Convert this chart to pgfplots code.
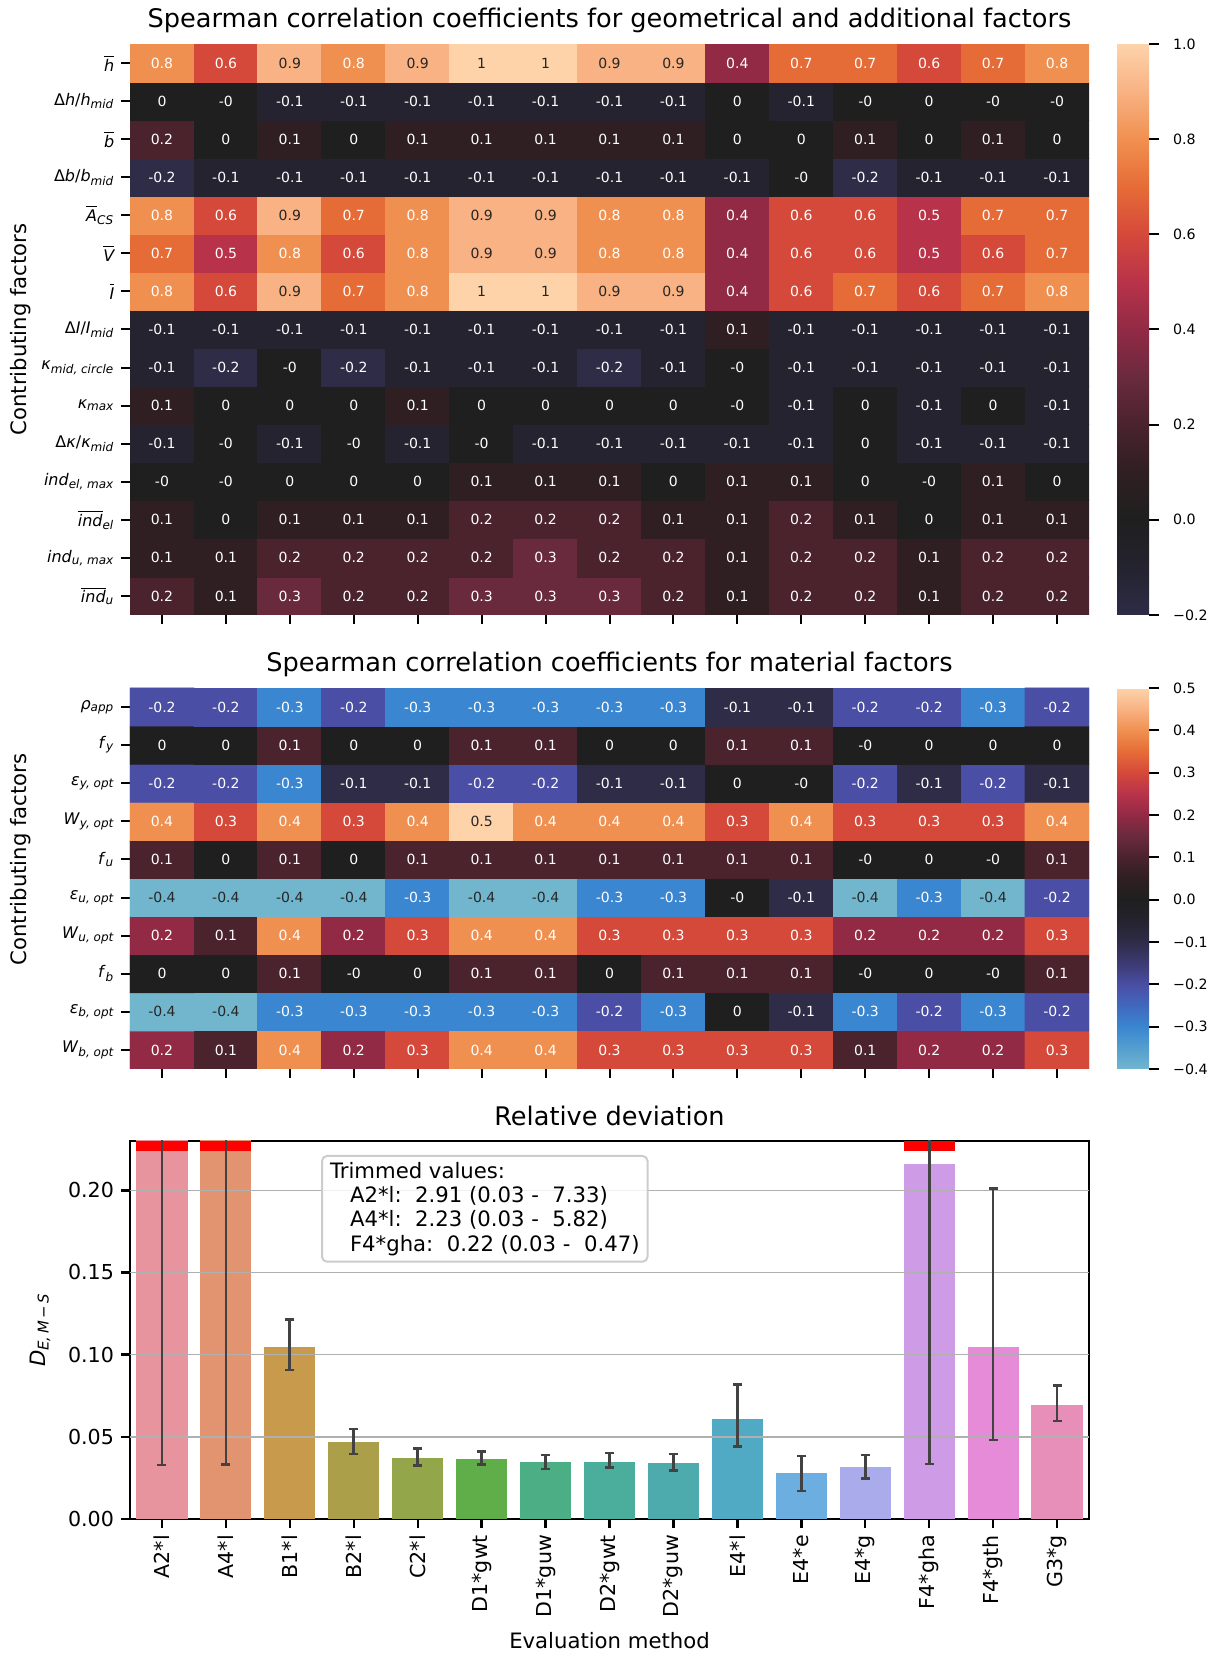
\documentclass[border=0pt]{standalone}
\usepackage{pgfplots}
\pgfplotsset{compat=1.18}
\usepackage{pgfplotstable}
\usepackage{fontspec}
\setmainfont{DejaVu Sans}

\definecolor{darktxt}{RGB}{38,38,38}
\definecolor{errgray}{RGB}{66,66,66}
\definecolor{gridgray}{RGB}{176,176,176}
\definecolor{legframe}{RGB}{204,204,204}
\definecolor{bc0}{RGB}{232,148,159}
\definecolor{bc1}{RGB}{226,148,112}
\definecolor{bc2}{RGB}{200,154,75}
\definecolor{bc3}{RGB}{171,159,74}
\definecolor{bc4}{RGB}{148,166,74}
\definecolor{bc5}{RGB}{96,174,74}
\definecolor{bc6}{RGB}{75,174,132}
\definecolor{bc7}{RGB}{75,173,156}
\definecolor{bc8}{RGB}{78,171,173}
\definecolor{bc9}{RGB}{80,170,196}
\definecolor{bc10}{RGB}{109,174,224}
\definecolor{bc11}{RGB}{170,171,234}
\definecolor{bc12}{RGB}{206,155,230}
\definecolor{bc13}{RGB}{230,139,216}
\definecolor{bc14}{RGB}{232,143,185}

\newcommand{\ov}[1]{$\overline{\mbox{\itshape #1}}$}
\newcommand{\sbi}[1]{\textsubscript{\itshape #1}}

\pgfplotsset{
 colormap={icefireA}{
  rgb255=(46,44,71) rgb255=(36,35,47) rgb255=(31,31,31) rgb255=(47,31,34)
  rgb255=(74,35,45) rgb255=(106,42,62) rgb255=(146,42,69) rgb255=(184,51,74)
  rgb255=(213,73,58) rgb255=(230,108,55) rgb255=(240,144,80) rgb255=(248,178,131)
  rgb255=(254,211,170)},
 colormap={icefireB}{
  rgb255=(114,182,206) rgb255=(84,158,208) rgb255=(58,134,208) rgb255=(64,104,190)
  rgb255=(74,78,164) rgb255=(60,58,115) rgb255=(46,44,71) rgb255=(36,35,47)
  rgb255=(31,31,31) rgb255=(47,31,34) rgb255=(74,35,45) rgb255=(106,42,62)
  rgb255=(146,42,69) rgb255=(184,51,74) rgb255=(213,73,58) rgb255=(230,108,55)
  rgb255=(240,144,80) rgb255=(248,178,131) rgb255=(254,211,170)},
 hmstyle/.style={
  scale only axis, width=479.5pt,
  xmin=-0.5, xmax=14.5,
  axis line style={draw=none},
  xtick={0,...,14}, xticklabels={},
  tick align=outside, xtick pos=left, ytick pos=left,
  major tick length=4.3pt, tick style={black, line width=1pt},
  yticklabel style={font=\fontsize{8}{9.6}\selectfont},
  every axis title/.style={at={(0.5,1)}, anchor=base, yshift=8.25pt, font=\fontsize{12.8}{15}\selectfont},
  every axis y label/.style={at={(rel axis cs:0,0.5)}, xshift=-54.5pt, rotate=90, anchor=center, font=\fontsize{10.6}{12}\selectfont},
  colorbar/width=16pt,
 },
 cbstyle/.style={
  scale only axis, width=16pt,
  axis line style={draw=none},
  tick align=outside, ytick pos=right, yticklabel pos=right,
  major tick length=5pt, tick style={black, line width=1pt},
  yticklabel style={font=\fontsize{7.1}{8}\selectfont, xshift=3.5pt},
 },
 lbl/.style={only marks, mark=none, point meta=explicit symbolic,
  visualization depends on={\thisrow{t} \as \tval},
  nodes near coords={\ifdim\tval pt>0.5pt\color{darktxt}\else\color{white}\fi\pgfplotspointmeta},
  every node near coord/.append style={anchor=center, font=\fontsize{7}{8}\selectfont}},
}

% Spearman coefficients, geometrical and additional factors
% x = evaluation method (0 = A2*l ... 14 = G3*g), y = factor (14 = top row), t = 1 for dark label text
\pgfplotstableread{
x y c t
0 0 0.2 0
1 0 0.1 0
2 0 0.3 0
3 0 0.2 0
4 0 0.2 0
5 0 0.3 0
6 0 0.3 0
7 0 0.3 0
8 0 0.2 0
9 0 0.1 0
10 0 0.2 0
11 0 0.2 0
12 0 0.1 0
13 0 0.2 0
14 0 0.2 0
0 1 0.1 0
1 1 0.1 0
2 1 0.2 0
3 1 0.2 0
4 1 0.2 0
5 1 0.2 0
6 1 0.3 0
7 1 0.2 0
8 1 0.2 0
9 1 0.1 0
10 1 0.2 0
11 1 0.2 0
12 1 0.1 0
13 1 0.2 0
14 1 0.2 0
0 2 0.1 0
1 2 0 0
2 2 0.1 0
3 2 0.1 0
4 2 0.1 0
5 2 0.2 0
6 2 0.2 0
7 2 0.2 0
8 2 0.1 0
9 2 0.1 0
10 2 0.2 0
11 2 0.1 0
12 2 0 0
13 2 0.1 0
14 2 0.1 0
0 3 -0 0
1 3 -0 0
2 3 0 0
3 3 0 0
4 3 0 0
5 3 0.1 0
6 3 0.1 0
7 3 0.1 0
8 3 0 0
9 3 0.1 0
10 3 0.1 0
11 3 0 0
12 3 -0 0
13 3 0.1 0
14 3 0 0
0 4 -0.1 0
1 4 -0 0
2 4 -0.1 0
3 4 -0 0
4 4 -0.1 0
5 4 -0 0
6 4 -0.1 0
7 4 -0.1 0
8 4 -0.1 0
9 4 -0.1 0
10 4 -0.1 0
11 4 0 0
12 4 -0.1 0
13 4 -0.1 0
14 4 -0.1 0
0 5 0.1 0
1 5 0 0
2 5 0 0
3 5 0 0
4 5 0.1 0
5 5 0 0
6 5 0 0
7 5 0 0
8 5 0 0
9 5 -0 0
10 5 -0.1 0
11 5 0 0
12 5 -0.1 0
13 5 0 0
14 5 -0.1 0
0 6 -0.1 0
1 6 -0.2 0
2 6 -0 0
3 6 -0.2 0
4 6 -0.1 0
5 6 -0.1 0
6 6 -0.1 0
7 6 -0.2 0
8 6 -0.1 0
9 6 -0 0
10 6 -0.1 0
11 6 -0.1 0
12 6 -0.1 0
13 6 -0.1 0
14 6 -0.1 0
0 7 -0.1 0
1 7 -0.1 0
2 7 -0.1 0
3 7 -0.1 0
4 7 -0.1 0
5 7 -0.1 0
6 7 -0.1 0
7 7 -0.1 0
8 7 -0.1 0
9 7 0.1 0
10 7 -0.1 0
11 7 -0.1 0
12 7 -0.1 0
13 7 -0.1 0
14 7 -0.1 0
0 8 0.8 0
1 8 0.6 0
2 8 0.9 1
3 8 0.7 0
4 8 0.8 0
5 8 1 1
6 8 1 1
7 8 0.9 1
8 8 0.9 1
9 8 0.4 0
10 8 0.6 0
11 8 0.7 0
12 8 0.6 0
13 8 0.7 0
14 8 0.8 0
0 9 0.7 0
1 9 0.5 0
2 9 0.8 0
3 9 0.6 0
4 9 0.8 0
5 9 0.9 1
6 9 0.9 1
7 9 0.8 0
8 9 0.8 0
9 9 0.4 0
10 9 0.6 0
11 9 0.6 0
12 9 0.5 0
13 9 0.6 0
14 9 0.7 0
0 10 0.8 0
1 10 0.6 0
2 10 0.9 1
3 10 0.7 0
4 10 0.8 0
5 10 0.9 1
6 10 0.9 1
7 10 0.8 0
8 10 0.8 0
9 10 0.4 0
10 10 0.6 0
11 10 0.6 0
12 10 0.5 0
13 10 0.7 0
14 10 0.7 0
0 11 -0.2 0
1 11 -0.1 0
2 11 -0.1 0
3 11 -0.1 0
4 11 -0.1 0
5 11 -0.1 0
6 11 -0.1 0
7 11 -0.1 0
8 11 -0.1 0
9 11 -0.1 0
10 11 -0 0
11 11 -0.2 0
12 11 -0.1 0
13 11 -0.1 0
14 11 -0.1 0
0 12 0.2 0
1 12 0 0
2 12 0.1 0
3 12 0 0
4 12 0.1 0
5 12 0.1 0
6 12 0.1 0
7 12 0.1 0
8 12 0.1 0
9 12 0 0
10 12 0 0
11 12 0.1 0
12 12 0 0
13 12 0.1 0
14 12 0 0
0 13 0 0
1 13 -0 0
2 13 -0.1 0
3 13 -0.1 0
4 13 -0.1 0
5 13 -0.1 0
6 13 -0.1 0
7 13 -0.1 0
8 13 -0.1 0
9 13 0 0
10 13 -0.1 0
11 13 -0 0
12 13 0 0
13 13 -0 0
14 13 -0 0
0 14 0.8 0
1 14 0.6 0
2 14 0.9 1
3 14 0.8 0
4 14 0.9 1
5 14 1 1
6 14 1 1
7 14 0.9 1
8 14 0.9 1
9 14 0.4 0
10 14 0.7 0
11 14 0.7 0
12 14 0.6 0
13 14 0.7 0
14 14 0.8 0
}\hmA

% Spearman coefficients, material factors (y = 9 top row rho_app ... 0 bottom row W_b,opt)
\pgfplotstableread{
x y c t
0 0 0.2 0
1 0 0.1 0
2 0 0.4 0
3 0 0.2 0
4 0 0.3 0
5 0 0.4 0
6 0 0.4 0
7 0 0.3 0
8 0 0.3 0
9 0 0.3 0
10 0 0.3 0
11 0 0.1 0
12 0 0.2 0
13 0 0.2 0
14 0 0.3 0
0 1 -0.4 1
1 1 -0.4 1
2 1 -0.3 0
3 1 -0.3 0
4 1 -0.3 0
5 1 -0.3 0
6 1 -0.3 0
7 1 -0.2 0
8 1 -0.3 0
9 1 0 0
10 1 -0.1 0
11 1 -0.3 0
12 1 -0.2 0
13 1 -0.3 0
14 1 -0.2 0
0 2 0 0
1 2 0 0
2 2 0.1 0
3 2 -0 0
4 2 0 0
5 2 0.1 0
6 2 0.1 0
7 2 0 0
8 2 0.1 0
9 2 0.1 0
10 2 0.1 0
11 2 -0 0
12 2 0 0
13 2 -0 0
14 2 0.1 0
0 3 0.2 0
1 3 0.1 0
2 3 0.4 0
3 3 0.2 0
4 3 0.3 0
5 3 0.4 0
6 3 0.4 0
7 3 0.3 0
8 3 0.3 0
9 3 0.3 0
10 3 0.3 0
11 3 0.2 0
12 3 0.2 0
13 3 0.2 0
14 3 0.3 0
0 4 -0.4 1
1 4 -0.4 1
2 4 -0.4 1
3 4 -0.4 1
4 4 -0.3 0
5 4 -0.4 1
6 4 -0.4 1
7 4 -0.3 0
8 4 -0.3 0
9 4 -0 0
10 4 -0.1 0
11 4 -0.4 1
12 4 -0.3 0
13 4 -0.4 1
14 4 -0.2 0
0 5 0.1 0
1 5 0 0
2 5 0.1 0
3 5 0 0
4 5 0.1 0
5 5 0.1 0
6 5 0.1 0
7 5 0.1 0
8 5 0.1 0
9 5 0.1 0
10 5 0.1 0
11 5 -0 0
12 5 0 0
13 5 -0 0
14 5 0.1 0
0 6 0.4 0
1 6 0.3 0
2 6 0.4 0
3 6 0.3 0
4 6 0.4 0
5 6 0.5 1
6 6 0.4 0
7 6 0.4 0
8 6 0.4 0
9 6 0.3 0
10 6 0.4 0
11 6 0.3 0
12 6 0.3 0
13 6 0.3 0
14 6 0.4 0
0 7 -0.2 0
1 7 -0.2 0
2 7 -0.3 0
3 7 -0.1 0
4 7 -0.1 0
5 7 -0.2 0
6 7 -0.2 0
7 7 -0.1 0
8 7 -0.1 0
9 7 0 0
10 7 -0 0
11 7 -0.2 0
12 7 -0.1 0
13 7 -0.2 0
14 7 -0.1 0
0 8 0 0
1 8 0 0
2 8 0.1 0
3 8 0 0
4 8 0 0
5 8 0.1 0
6 8 0.1 0
7 8 0 0
8 8 0 0
9 8 0.1 0
10 8 0.1 0
11 8 -0 0
12 8 0 0
13 8 0 0
14 8 0 0
0 9 -0.2 0
1 9 -0.2 0
2 9 -0.3 0
3 9 -0.2 0
4 9 -0.3 0
5 9 -0.3 0
6 9 -0.3 0
7 9 -0.3 0
8 9 -0.3 0
9 9 -0.1 0
10 9 -0.1 0
11 9 -0.2 0
12 9 -0.2 0
13 9 -0.3 0
14 9 -0.2 0
}\hmB

\begin{document}
\begin{tikzpicture}
\useasboundingbox (0,0) rectangle (607.5pt,828pt);

% ---------------- Heatmap 1 ----------------
\begin{axis}[hmstyle,
  at={(65pt,520.5pt)}, anchor=south west, height=285.5pt,
  ymin=-0.5, ymax=14.5,
  ytick={0,...,14},
  yticklabels={{\ov{ind}\sbi{u}},{\textit{ind}\sbi{u, max}},{\ov{ind}\sbi{el}},{\textit{ind}\sbi{el, max}},
    {Δ\textit{κ}/\textit{κ}\sbi{mid}},{\textit{κ}\sbi{max}},{\textit{κ}\sbi{mid, circle}},
    {Δ\textit{I}/\textit{I}\sbi{mid}},{\ov{I}},{\ov{V}},{\ov{A}\sbi{CS}},
    {Δ\textit{b}/\textit{b}\sbi{mid}},{\ov{b}},{Δ\textit{h}/\textit{h}\sbi{mid}},{\ov{h}}},
  title={Spearman correlation coefficients for geometrical and additional factors},
  ylabel={Contributing factors},
  colormap name=icefireA, point meta min=-0.2, point meta max=1.0,
  colorbar,
  colorbar style={cbstyle, at={(parent axis.north east)}, anchor=north west, xshift=5.5pt,
    height=285.5pt,
    ytick={-0.2,0,0.2,0.4,0.6,0.8,1.0},
    yticklabels={−0.2,0.0,0.2,0.4,0.6,0.8,1.0}},
]
\addplot[matrix plot*, mesh/cols=15, point meta=explicit] table[x=x, y=y, meta=c] {\hmA};
\addplot[lbl] table[x=x, y=y, meta=c] {\hmA};
\end{axis}

% ---------------- Heatmap 2 ----------------
\begin{axis}[hmstyle,
  at={(65pt,293.5pt)}, anchor=south west, height=190.5pt,
  ymin=-0.5, ymax=9.5,
  ytick={0,...,9},
  yticklabels={{\textit{W}\sbi{b, opt}},{\textit{ε}\sbi{b, opt}},{\textit{f}\sbi{b}},{\textit{W}\sbi{u, opt}},
    {\textit{ε}\sbi{u, opt}},{\textit{f}\sbi{u}},{\textit{W}\sbi{y, opt}},{\textit{ε}\sbi{y, opt}},
    {\textit{f}\sbi{y}},{\textit{ρ}\sbi{app}}},
  title={Spearman correlation coefficients for material factors},
  ylabel={Contributing factors},
  every axis y label/.append style={xshift=9.5pt},
  colormap name=icefireB, point meta min=-0.4, point meta max=0.5,
  colorbar,
  colorbar style={cbstyle, at={(parent axis.north east)}, anchor=north west, xshift=5.5pt,
    height=190.5pt,
    ytick={-0.4,-0.3,-0.2,-0.1,0,0.1,0.2,0.3,0.4,0.5},
    yticklabels={−0.4,−0.3,−0.2,−0.1,0.0,0.1,0.2,0.3,0.4,0.5}},
]
\addplot[matrix plot*, mesh/cols=15, point meta=explicit] table[x=x, y=y, meta=c] {\hmB};
\addplot[lbl] table[x=x, y=y, meta=c] {\hmB};
\end{axis}

% ---------------- Bar chart ----------------
\begin{axis}[
  at={(65pt,68.5pt)}, anchor=south west,
  scale only axis, width=479.5pt, height=189pt,
  xmin=-0.5, xmax=14.5, ymin=0, ymax=0.23,
  xtick={0,...,14},
  xticklabels={A2*l,A4*l,B1*l,B2*l,C2*l,D1*gwt,D1*guw,D2*gwt,D2*guw,E4*l,E4*e,E4*g,F4*gha,F4*gth,G3*g},
  xticklabel style={rotate=90, anchor=east, font=\fontsize{10.3}{12}\selectfont},
  ytick={0,0.05,0.1,0.15,0.2},
  /pgf/number format/assume math mode=true,
  yticklabel style={/pgf/number format/.cd, fixed, fixed zerofill, precision=2, /tikz/.cd, font=\fontsize{10.3}{12}\selectfont},
  axis line style={line width=1.3pt},
  tick align=outside, xtick pos=left, ytick pos=left,
  major tick length=4.5pt, tick style={black, line width=1.2pt},
  every axis title/.style={at={(0.5,1)}, anchor=base, yshift=8pt, font=\fontsize{12.8}{15}\selectfont},
  title={Relative deviation},
  every axis y label/.style={at={(rel axis cs:0,0.5)}, xshift=-45pt, rotate=90, anchor=center, font=\fontsize{10.6}{12}\selectfont},
  ylabel={\textit{D}\textsubscript{\itshape E,\,M\,\upshape −\,\itshape S}},
  every axis x label/.style={at={(rel axis cs:0.5,0)}, anchor=base, yshift=-65pt, font=\fontsize{10.6}{12}\selectfont},
  xlabel={Evaluation method},
]
\addplot[ybar, bar width=0.8, bar shift=0pt, fill=bc0, draw=none] coordinates {(0,2.91)};
\addplot[ybar, bar width=0.8, bar shift=0pt, fill=bc1, draw=none] coordinates {(1,2.23)};
\addplot[ybar, bar width=0.8, bar shift=0pt, fill=bc2, draw=none] coordinates {(2,0.1047)};
\addplot[ybar, bar width=0.8, bar shift=0pt, fill=bc3, draw=none] coordinates {(3,0.0466)};
\addplot[ybar, bar width=0.8, bar shift=0pt, fill=bc4, draw=none] coordinates {(4,0.0373)};
\addplot[ybar, bar width=0.8, bar shift=0pt, fill=bc5, draw=none] coordinates {(5,0.0365)};
\addplot[ybar, bar width=0.8, bar shift=0pt, fill=bc6, draw=none] coordinates {(6,0.0344)};
\addplot[ybar, bar width=0.8, bar shift=0pt, fill=bc7, draw=none] coordinates {(7,0.0348)};
\addplot[ybar, bar width=0.8, bar shift=0pt, fill=bc8, draw=none] coordinates {(8,0.0340)};
\addplot[ybar, bar width=0.8, bar shift=0pt, fill=bc9, draw=none] coordinates {(9,0.0609)};
\addplot[ybar, bar width=0.8, bar shift=0pt, fill=bc10, draw=none] coordinates {(10,0.0277)};
\addplot[ybar, bar width=0.8, bar shift=0pt, fill=bc11, draw=none] coordinates {(11,0.0318)};
\addplot[ybar, bar width=0.8, bar shift=0pt, fill=bc12, draw=none] coordinates {(12,0.2161)};
\addplot[ybar, bar width=0.8, bar shift=0pt, fill=bc13, draw=none] coordinates {(13,0.1045)};
\addplot[ybar, bar width=0.8, bar shift=0pt, fill=bc14, draw=none] coordinates {(14,0.0695)};
% horizontal grid
\addplot[gridgray, line width=0.8pt, forget plot] coordinates {(-0.5,0.05) (14.5,0.05)};
\addplot[gridgray, line width=0.8pt, forget plot] coordinates {(-0.5,0.10) (14.5,0.10)};
\addplot[gridgray, line width=0.8pt, forget plot] coordinates {(-0.5,0.15) (14.5,0.15)};
\addplot[gridgray, line width=0.8pt, forget plot] coordinates {(-0.5,0.20) (14.5,0.20)};
% trimmed markers
\addplot[red, line width=5pt, forget plot] coordinates {(-0.4,0.2269) (0.4,0.2269)};
\addplot[red, line width=5pt, forget plot] coordinates {(0.6,0.2269) (1.4,0.2269)};
\addplot[red, line width=5pt, forget plot] coordinates {(11.6,0.2269) (12.4,0.2269)};
% error bars: vertical ranges (lower, upper)
\addplot[errgray, line width=1.35pt, unbounded coords=jump, forget plot] coordinates {
 (0,0.0328) (0,7.33) (0,nan)
 (1,0.0332) (1,5.82) (1,nan)
 (2,0.0906) (2,0.1212) (2,nan)
 (3,0.0395) (3,0.0548) (3,nan)
 (4,0.0326) (4,0.0430) (4,nan)
 (5,0.0330) (5,0.0409) (5,nan)
 (6,0.0305) (6,0.0389) (6,nan)
 (7,0.0312) (7,0.0401) (7,nan)
 (8,0.0297) (8,0.0395) (8,nan)
 (9,0.0440) (9,0.0819) (9,nan)
 (10,0.0171) (10,0.0383) (10,nan)
 (11,0.0248) (11,0.0389) (11,nan)
 (12,0.0334) (12,0.47) (12,nan)
 (13,0.0481) (13,0.2010) (13,nan)
 (14,0.0597) (14,0.0811)
};
% error bar caps
\addplot[errgray, only marks, mark=-, mark size=2.25pt, mark options={line width=1.35pt, draw=errgray}, forget plot] coordinates {
 (0,0.0328) (1,0.0332)
 (2,0.0906) (2,0.1212) (3,0.0395) (3,0.0548) (4,0.0326) (4,0.0430)
 (5,0.0330) (5,0.0409) (6,0.0305) (6,0.0389) (7,0.0312) (7,0.0401)
 (8,0.0297) (8,0.0395) (9,0.0440) (9,0.0819) (10,0.0171) (10,0.0383)
 (11,0.0248) (11,0.0389) (12,0.0334) (13,0.0481) (13,0.2010)
 (14,0.0597) (14,0.0811)
};
\node[anchor=north west, draw=legframe, line width=1pt, rounded corners=2.5pt,
  fill=white, fill opacity=0.8, text opacity=1, inner xsep=4pt, inner ysep=3pt,
  align=left, font=\fontsize{10.6}{12.2}\selectfont]
  at (rel axis cs:0.1992,0.963)
  {Trimmed values:\\
   \hspace*{10pt}A2*l:~~2.91 (0.03 -~~7.33)\\
   \hspace*{10pt}A4*l:~~2.23 (0.03 -~~5.82)\\
   \hspace*{10pt}F4*gha:~~0.22 (0.03 -~~0.47)};
\end{axis}
\end{tikzpicture}
\end{document}
